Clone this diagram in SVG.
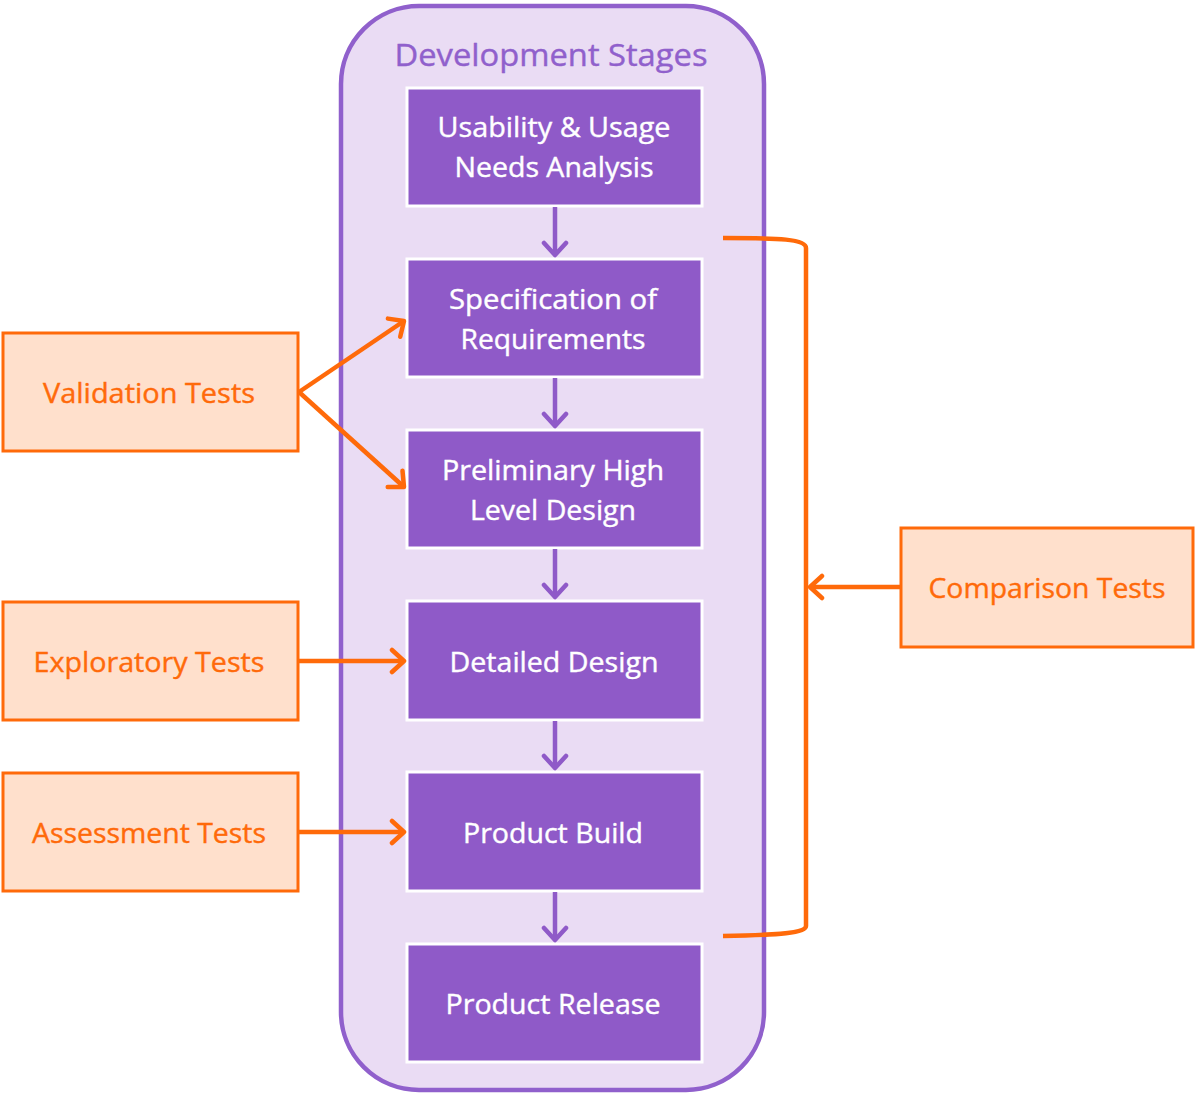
<svg xmlns="http://www.w3.org/2000/svg" width="1195" height="1093" viewBox="0 0 1195 1093">
<style>
.stage rect{fill:#8F5AC8;stroke:#FFFFFF;stroke-width:3}
.stage text{fill:#FFFFFF;font-family:"Open Sans","Noto Sans",sans-serif;font-size:27px;text-anchor:middle;stroke:#FFFFFF;stroke-width:0.4}
.test rect{fill:#FFE0CC;stroke:#FF6A0A;stroke-width:3}
.test text{fill:#FF6A0A;font-family:"Open Sans","Noto Sans",sans-serif;font-size:27px;text-anchor:middle;stroke:#FF6A0A;stroke-width:0.4}
.pa{stroke:#8F5AC8;stroke-width:4.5;fill:none}
.oa{stroke:#FF6A0A;stroke-width:4.5;fill:none}
</style>
<defs>
<marker id="mp" markerUnits="userSpaceOnUse" markerWidth="30" markerHeight="30" refX="15" refY="12" orient="auto" viewBox="0 0 30 24">
<path d="M3,1 L15,12 L3,23" fill="none" stroke="#8F5AC8" stroke-width="4.5" stroke-linecap="round" stroke-linejoin="round"/>
</marker>
<marker id="mo" markerUnits="userSpaceOnUse" markerWidth="30" markerHeight="30" refX="15" refY="12" orient="auto" viewBox="0 0 30 24">
<path d="M3,1 L15,12 L3,23" fill="none" stroke="#FF6A0A" stroke-width="4.5" stroke-linecap="round" stroke-linejoin="round"/>
</marker>
</defs>
<g id="container">
<rect x="341" y="6" width="423" height="1084" rx="78" ry="78" fill="#EADCF4" stroke="#9060CC" stroke-width="4.5"/>
<text x="551" y="66" fill="#9060CC" stroke="#9060CC" stroke-width="0.4" font-family="'Open Sans','Noto Sans',sans-serif" font-size="31" text-anchor="middle" textLength="313" lengthAdjust="spacingAndGlyphs">Development Stages</text>
</g>
<g id="stage1" class="stage"><rect x="407" y="88" width="295" height="118"/>
<text x="554" y="137" textLength="233" lengthAdjust="spacingAndGlyphs">Usability &amp; Usage</text>
<text x="554" y="177" textLength="199" lengthAdjust="spacingAndGlyphs">Needs Analysis</text></g>
<g id="stage2" class="stage"><rect x="407" y="259" width="295" height="118"/>
<text x="553" y="309" textLength="208" lengthAdjust="spacingAndGlyphs">Specification of</text>
<text x="553" y="349" textLength="185" lengthAdjust="spacingAndGlyphs">Requirements</text></g>
<g id="stage3" class="stage"><rect x="407" y="430" width="295" height="118"/>
<text x="553" y="480" textLength="222" lengthAdjust="spacingAndGlyphs">Preliminary High</text>
<text x="553" y="520" textLength="166" lengthAdjust="spacingAndGlyphs">Level Design</text></g>
<g id="stage4" class="stage"><rect x="407" y="601" width="295" height="119"/>
<text x="554" y="672" textLength="209" lengthAdjust="spacingAndGlyphs">Detailed Design</text></g>
<g id="stage5" class="stage"><rect x="407" y="772" width="295" height="119"/>
<text x="553" y="843" textLength="180" lengthAdjust="spacingAndGlyphs">Product Build</text></g>
<g id="stage6" class="stage"><rect x="407" y="944" width="295" height="118"/>
<text x="553" y="1014" textLength="215" lengthAdjust="spacingAndGlyphs">Product Release</text></g>
<g id="validation" class="test"><rect x="3" y="333" width="295" height="118"/>
<text x="149" y="403" textLength="212" lengthAdjust="spacingAndGlyphs">Validation Tests</text></g>
<g id="exploratory" class="test"><rect x="3" y="602" width="295" height="118"/>
<text x="149" y="672" textLength="231" lengthAdjust="spacingAndGlyphs">Exploratory Tests</text></g>
<g id="assessment" class="test"><rect x="3" y="773" width="295" height="118"/>
<text x="149" y="843" textLength="234" lengthAdjust="spacingAndGlyphs">Assessment Tests</text></g>
<g id="comparison" class="test"><rect x="901" y="528" width="292" height="119"/>
<text x="1047" y="598" textLength="237" lengthAdjust="spacingAndGlyphs">Comparison Tests</text></g>
<g id="connectors">
<path class="pa" d="M555,207 V255" marker-end="url(#mp)"/>
<path class="pa" d="M555,378 V426" marker-end="url(#mp)"/>
<path class="pa" d="M555,549 V597" marker-end="url(#mp)"/>
<path class="pa" d="M555,721 V768" marker-end="url(#mp)"/>
<path class="pa" d="M555,892 V940" marker-end="url(#mp)"/>
<path class="oa" d="M299,392 L404,321" marker-end="url(#mo)"/>
<path class="oa" d="M299,392 L404,487" marker-end="url(#mo)"/>
<path class="oa" d="M299,661 H404" marker-end="url(#mo)"/>
<path class="oa" d="M299,832 H404" marker-end="url(#mo)"/>
<path class="oa" d="M901,587 H810" marker-end="url(#mo)"/>
<path class="oa" d="M723,238 C780,238 806,239 806,248 V926 C806,933 780,935 723,936"/>
</g>
</svg>
